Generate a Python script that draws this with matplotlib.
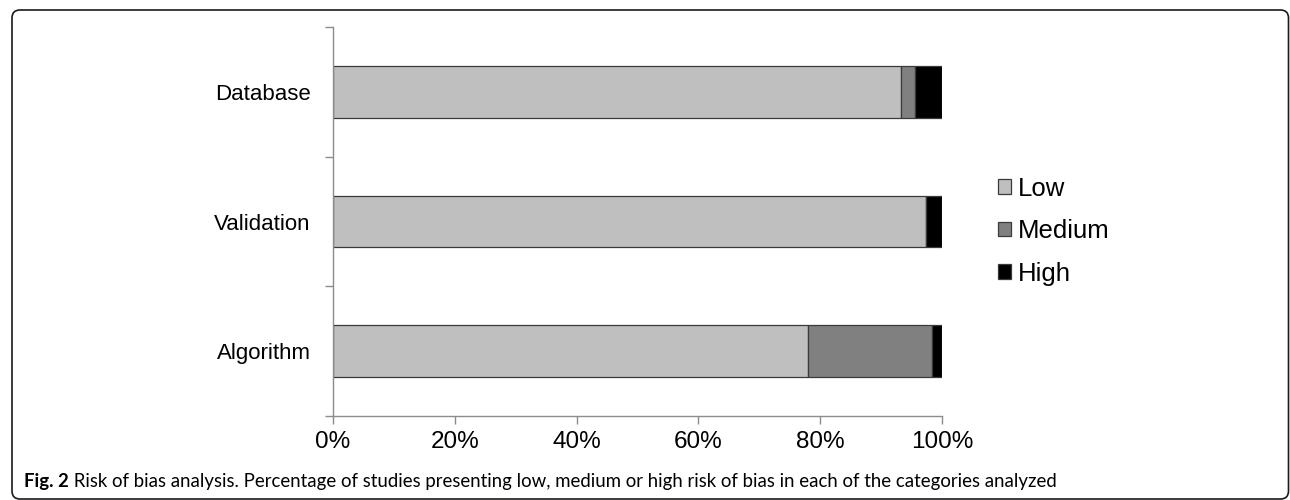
import matplotlib
matplotlib.use("Agg")
import matplotlib.pyplot as plt
from matplotlib.patches import FancyBboxPatch
from matplotlib.ticker import FixedLocator, PercentFormatter

plt.rcParams['font.family'] = ['Liberation Sans', 'DejaVu Sans']

# Share of studies per risk level (%), one entry per category
categories = ['Algorithm', 'Validation', 'Database']
low = [78.0, 97.4, 93.3]
medium = [20.3, 0.0, 2.2]
high = [1.7, 2.6, 4.5]
levels = ['Low', 'Medium', 'High']
colors = ['#bfbfbf', '#808080', '#000000']

fig = plt.figure(figsize=(12.9, 5), dpi=100)
ax = fig.add_axes([333 / 1290, 84 / 500, 609 / 1290, 389 / 500])

ypos = list(range(len(categories)))
left = [0.0] * len(categories)
for vals, name, col in zip([low, medium, high], levels, colors):
    ax.barh(ypos, vals, left=left, height=0.4, color=col,
            edgecolor='#3a3a3a', linewidth=0.9, label=name)
    left = [a + b for a, b in zip(left, vals)]

ax.set_xlim(0, 100)
ax.set_ylim(-0.5, len(categories) - 0.5)
ax.set_xticks(range(0, 101, 20))
ax.xaxis.set_major_formatter(PercentFormatter(decimals=0))

# category boundaries carry the tick marks, names sit between them
ax.yaxis.set_major_locator(FixedLocator([-0.5, 0.5, 1.5, 2.5]))
ax.yaxis.set_major_formatter(plt.NullFormatter())
ax.yaxis.set_minor_locator(FixedLocator(ypos))
ax.set_yticklabels(categories, minor=True)
ax.tick_params(axis='y', which='minor', length=0, pad=16, labelsize=16)
ax.tick_params(axis='y', which='major', length=6, color='#8c8c8c', width=1)
ax.tick_params(axis='x', length=6, color='#8c8c8c', width=1, pad=5, labelsize=17.5)

for side in ['top', 'right']:
    ax.spines[side].set_visible(False)
for side in ['left', 'bottom']:
    ax.spines[side].set_color('#8c8c8c')
    ax.spines[side].set_linewidth(1)

fig.legend(loc='center left', bbox_to_anchor=(988 / 1290, 1 - 231 / 500),
           frameon=False, fontsize=18.5, handlelength=0.5, handleheight=0.5,
           handletextpad=0.25, labelspacing=0.72, borderaxespad=0)

# rounded frame around the figure
frame = FancyBboxPatch((0.12, 0.01), 12.765, 4.89,
                       boxstyle='round,pad=0,rounding_size=0.08',
                       transform=fig.dpi_scale_trans, fill=False,
                       edgecolor='#1a1a1a', linewidth=1.2)
fig.patches.append(frame)

cap_font = ['Lato', 'DejaVu Sans']
cap1 = fig.text(24 / 1290, 1 - 487 / 500, 'Fig. 2', fontsize=13.4,
                fontweight='bold', family=cap_font, va='baseline', ha='left')
ax.annotate(' Risk of bias analysis. Percentage of studies presenting low, medium '
            'or high risk of bias in each of the categories analyzed',
            xy=(1, 0), xycoords=cap1, va='bottom', ha='left',
            fontsize=13.4, family=cap_font, annotation_clip=False)

fig.savefig('out.png', dpi=100)
